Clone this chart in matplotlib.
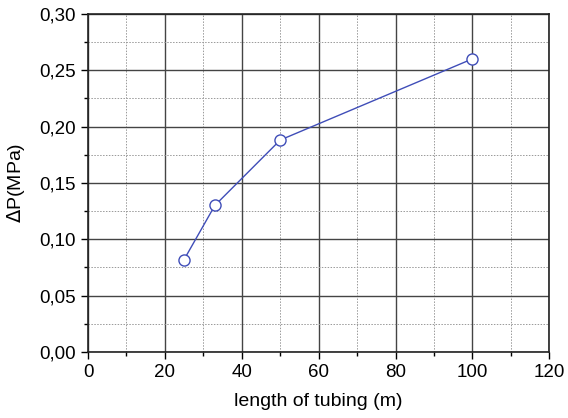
import matplotlib.pyplot as plt
from matplotlib.ticker import MultipleLocator, FuncFormatter

plt.rcParams.update({
    "font.family": ["Liberation Sans", "DejaVu Sans"],
})

# tubing length (m) vs pressure drop (MPa)
length = [25, 33, 50, 100]
dp = [0.082, 0.130, 0.188, 0.260]

fig, ax = plt.subplots(figsize=(5.68, 4.18), dpi=100)
fig.subplots_adjust(left=0.155, right=0.967, top=0.967, bottom=0.158)

ax.plot(length, dp, '-o', color='#3f4db8', lw=1.0, ms=8,
        mfc='white', mec='#3f4db8', mew=1.0, zorder=5)

ax.set_xlim(0, 120)
ax.set_ylim(0, 0.30)
ax.xaxis.set_major_locator(MultipleLocator(20))
ax.xaxis.set_minor_locator(MultipleLocator(10))
ax.yaxis.set_major_locator(MultipleLocator(0.05))
ax.yaxis.set_minor_locator(MultipleLocator(0.025))
ax.yaxis.set_major_formatter(FuncFormatter(lambda v, p: f"{v:.2f}".replace('.', ',')))

ax.grid(which='major', color='#444444', lw=1.0, ls='-')
ax.grid(which='minor', color='#999999', lw=0.7, ls=(0, (1.5, 1.5)))
ax.set_axisbelow(True)

for s in ax.spines.values():
    s.set_linewidth(1.2)
    s.set_color('#222222')

ax.tick_params(axis='both', which='major', direction='out', length=5, width=1.0, labelsize=13.5)
ax.tick_params(axis='both', which='minor', direction='out', length=3, width=1.0)

ax.set_xlabel('length of tubing (m)', fontsize=14, labelpad=9)
ax.set_ylabel(r'$\Delta$P(MPa)', fontsize=14, labelpad=9)

plt.savefig('out.png', dpi=100)
